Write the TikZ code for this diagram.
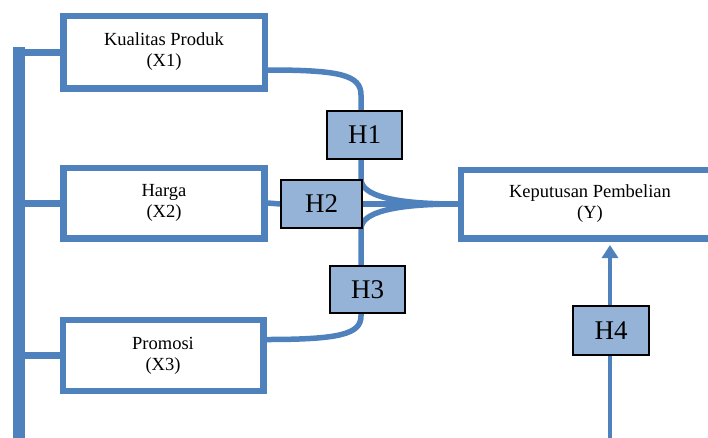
\documentclass[tikz,border=0pt]{standalone}
\usepackage{fontspec}
\setmainfont{Liberation Serif}
\usetikzlibrary{arrows.meta,calc}
\definecolor{lnblue}{RGB}{79,129,189}
\definecolor{hfill}{RGB}{149,179,215}
\pgfdeclarelayer{bg}
\pgfsetlayers{bg,main}
\begin{document}
\begin{tikzpicture}[x=1pt,y=-1pt,
  varbox/.style={draw=lnblue,line width=6.5pt,fill=white,rectangle,inner sep=0pt,align=center,font=\fontsize{18.5}{21}\selectfont},
  hbox/.style={draw=black,line width=1.5pt,fill=hfill,rectangle,inner sep=0pt,minimum width=75pt,minimum height=48pt,font=\fontsize{27}{30}\selectfont},
  conn/.style={draw=lnblue,line width=5.5pt},
  stub/.style={draw=lnblue,line width=7pt},
  thinarrow/.style={draw=lnblue,line width=3.5pt,-{Triangle[width=16pt,length=13pt]}}]
\useasboundingbox (0,0) rectangle (708,437);
\clip (0,0) rectangle (708,437);
% variable boxes
\node[varbox,minimum width=201.5pt,minimum height=72.5pt] (X1) at (164,52) {Kualitas Produk\\(X1)};
\node[varbox,minimum width=201pt,minimum height=70.5pt] (X2) at (164,203) {Harga\\(X2)};
\node[varbox,minimum width=200.5pt,minimum height=71pt] (X3) at (163,355.5) {Promosi\\(X3)};
\node[varbox,minimum width=258pt,minimum height=68.5pt] (Y) at (590,204) {Keputusan Pembelian\\(Y)};
% left bar
\node[fill=lnblue,inner sep=0pt,minimum width=12.5pt,minimum height=395pt] (bar) at (19,244.5) {};
% hypothesis boxes
\node[hbox] (H1) at (364.5,135) {H1};
\node[hbox,minimum width=81pt] (H2) at (321.5,204) {H2};
\node[hbox,minimum height=47pt] (H3) at (367.5,289.5) {H3};
\node[hbox,minimum width=76pt,minimum height=49pt] (H4) at (611,330.5) {H4};
% connector ends
\coordinate (o1) at ($(X1.east)+(0,18)$);
\coordinate (o3) at ($(X3.east)+(0,-16)$);
\coordinate (h4b) at (610,440);
\coordinate (h4t) at ($(Y.south -| h4b)+(0,3.5)$);
\begin{pgfonlayer}{bg}
\draw[stub] (bar.east |- X1.west) -- (X1.west);
\draw[stub] (bar.east |- X2.west) -- (X2.west);
\draw[stub] (bar.east |- X3.west) -- (X3.west);
\draw[conn] (X2.east) -- (H2.west);
\draw[conn,line width=6.5pt] (H2.east) -- (Y.west);
\draw[conn] (o1) .. controls (340,70) and (361,75) .. (361,95) -- (361,179) .. controls (361,196) and (395,204) .. (Y.west);
\draw[conn] (o3) .. controls (340,339.5) and (361,334) .. (361,316) -- (361,229) .. controls (361,212) and (395,204) .. (Y.west);
\draw[thinarrow] (h4b) -- (h4t);
\end{pgfonlayer}
\end{tikzpicture}
\end{document}
